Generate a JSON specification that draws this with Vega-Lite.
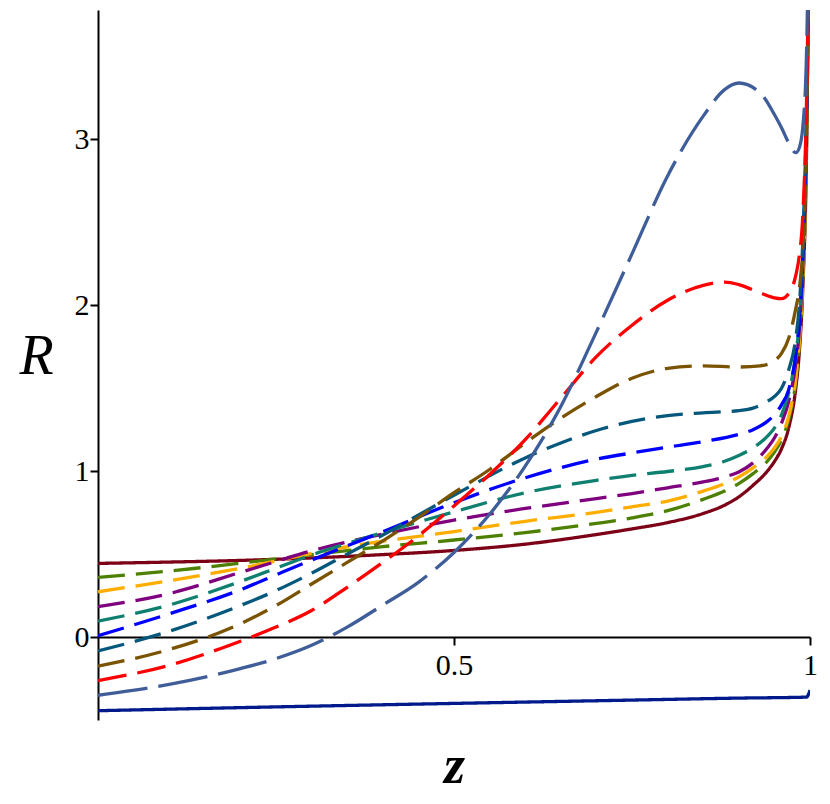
{
  "$schema": "https://vega.github.io/schema/vega-lite/v6.json",
  "width": 712,
  "height": 710,
  "autosize": {"type": "none"},
  "padding": {"left": 98, "top": 10, "right": 20, "bottom": 84},
  "background": "white",
  "config": {"view": {"stroke": null}},
  "data": {
    "values": [
      {"curve": "c1", "z": 0, "R": 0.444}, {"curve": "c1", "z": 0.1, "R": 0.452}, {"curve": "c1", "z": 0.2, "R": 0.462},
      {"curve": "c1", "z": 0.3, "R": 0.477}, {"curve": "c1", "z": 0.4, "R": 0.497}, {"curve": "c1", "z": 0.5, "R": 0.522},
      {"curve": "c1", "z": 0.6, "R": 0.56}, {"curve": "c1", "z": 0.7, "R": 0.618}, {"curve": "c1", "z": 0.75, "R": 0.652},
      {"curve": "c1", "z": 0.8, "R": 0.69}, {"curve": "c1", "z": 0.85, "R": 0.745}, {"curve": "c1", "z": 0.88, "R": 0.795},
      {"curve": "c1", "z": 0.9, "R": 0.845}, {"curve": "c1", "z": 0.92, "R": 0.915}, {"curve": "c1", "z": 0.94, "R": 1.0},
      {"curve": "c1", "z": 0.95, "R": 1.058}, {"curve": "c1", "z": 0.96, "R": 1.135}, {"curve": "c1", "z": 0.97, "R": 1.26},
      {"curve": "c1", "z": 0.98, "R": 1.5}, {"curve": "c1", "z": 0.985, "R": 1.72}, {"curve": "c1", "z": 0.99, "R": 2.12},
      {"curve": "c1", "z": 0.995, "R": 2.9}, {"curve": "c1", "z": 0.998, "R": 4.0},

      {"curve": "c2", "z": 0, "R": 0.36}, {"curve": "c2", "z": 0.1, "R": 0.398}, {"curve": "c2", "z": 0.2, "R": 0.445},
      {"curve": "c2", "z": 0.3, "R": 0.497}, {"curve": "c2", "z": 0.4, "R": 0.545}, {"curve": "c2", "z": 0.5, "R": 0.585},
      {"curve": "c2", "z": 0.6, "R": 0.63}, {"curve": "c2", "z": 0.7, "R": 0.685}, {"curve": "c2", "z": 0.75, "R": 0.718},
      {"curve": "c2", "z": 0.8, "R": 0.762}, {"curve": "c2", "z": 0.85, "R": 0.83}, {"curve": "c2", "z": 0.88, "R": 0.88},
      {"curve": "c2", "z": 0.9, "R": 0.925}, {"curve": "c2", "z": 0.92, "R": 0.985}, {"curve": "c2", "z": 0.94, "R": 1.06},
      {"curve": "c2", "z": 0.95, "R": 1.115}, {"curve": "c2", "z": 0.96, "R": 1.19}, {"curve": "c2", "z": 0.97, "R": 1.31},
      {"curve": "c2", "z": 0.98, "R": 1.54}, {"curve": "c2", "z": 0.985, "R": 1.76}, {"curve": "c2", "z": 0.99, "R": 2.15},
      {"curve": "c2", "z": 0.995, "R": 2.95}, {"curve": "c2", "z": 0.998, "R": 4.0},

      {"curve": "c3", "z": 0, "R": 0.273}, {"curve": "c3", "z": 0.1, "R": 0.34}, {"curve": "c3", "z": 0.2, "R": 0.415},
      {"curve": "c3", "z": 0.25, "R": 0.458}, {"curve": "c3", "z": 0.3, "R": 0.505}, {"curve": "c3", "z": 0.4, "R": 0.578},
      {"curve": "c3", "z": 0.5, "R": 0.636}, {"curve": "c3", "z": 0.6, "R": 0.698}, {"curve": "c3", "z": 0.7, "R": 0.752},
      {"curve": "c3", "z": 0.75, "R": 0.785}, {"curve": "c3", "z": 0.8, "R": 0.82}, {"curve": "c3", "z": 0.85, "R": 0.88},
      {"curve": "c3", "z": 0.88, "R": 0.925}, {"curve": "c3", "z": 0.9, "R": 0.965}, {"curve": "c3", "z": 0.92, "R": 1.02},
      {"curve": "c3", "z": 0.94, "R": 1.09}, {"curve": "c3", "z": 0.95, "R": 1.14}, {"curve": "c3", "z": 0.96, "R": 1.21},
      {"curve": "c3", "z": 0.97, "R": 1.33}, {"curve": "c3", "z": 0.98, "R": 1.56}, {"curve": "c3", "z": 0.985, "R": 1.78},
      {"curve": "c3", "z": 0.99, "R": 2.18}, {"curve": "c3", "z": 0.995, "R": 2.97}, {"curve": "c3", "z": 0.998, "R": 4.0},

      {"curve": "c4", "z": 0, "R": 0.183}, {"curve": "c4", "z": 0.1, "R": 0.262}, {"curve": "c4", "z": 0.2, "R": 0.39},
      {"curve": "c4", "z": 0.25, "R": 0.455}, {"curve": "c4", "z": 0.3, "R": 0.52}, {"curve": "c4", "z": 0.4, "R": 0.62},
      {"curve": "c4", "z": 0.5, "R": 0.705}, {"curve": "c4", "z": 0.6, "R": 0.775}, {"curve": "c4", "z": 0.7, "R": 0.835},
      {"curve": "c4", "z": 0.75, "R": 0.865}, {"curve": "c4", "z": 0.8, "R": 0.9}, {"curve": "c4", "z": 0.85, "R": 0.935},
      {"curve": "c4", "z": 0.88, "R": 0.965}, {"curve": "c4", "z": 0.9, "R": 0.995}, {"curve": "c4", "z": 0.92, "R": 1.05},
      {"curve": "c4", "z": 0.94, "R": 1.14}, {"curve": "c4", "z": 0.95, "R": 1.2}, {"curve": "c4", "z": 0.96, "R": 1.29},
      {"curve": "c4", "z": 0.97, "R": 1.42}, {"curve": "c4", "z": 0.98, "R": 1.65}, {"curve": "c4", "z": 0.985, "R": 1.85},
      {"curve": "c4", "z": 0.99, "R": 2.25}, {"curve": "c4", "z": 0.995, "R": 3.0}, {"curve": "c4", "z": 0.998, "R": 4.0},

      {"curve": "c5", "z": 0, "R": 0.096}, {"curve": "c5", "z": 0.1, "R": 0.193}, {"curve": "c5", "z": 0.2, "R": 0.335},
      {"curve": "c5", "z": 0.25, "R": 0.415}, {"curve": "c5", "z": 0.3, "R": 0.495}, {"curve": "c5", "z": 0.35, "R": 0.565},
      {"curve": "c5", "z": 0.4, "R": 0.63}, {"curve": "c5", "z": 0.5, "R": 0.755}, {"curve": "c5", "z": 0.6, "R": 0.87},
      {"curve": "c5", "z": 0.7, "R": 0.945}, {"curve": "c5", "z": 0.75, "R": 0.975}, {"curve": "c5", "z": 0.8, "R": 0.998},
      {"curve": "c5", "z": 0.85, "R": 1.028}, {"curve": "c5", "z": 0.88, "R": 1.06}, {"curve": "c5", "z": 0.9, "R": 1.095},
      {"curve": "c5", "z": 0.92, "R": 1.14}, {"curve": "c5", "z": 0.94, "R": 1.21}, {"curve": "c5", "z": 0.95, "R": 1.26},
      {"curve": "c5", "z": 0.96, "R": 1.34}, {"curve": "c5", "z": 0.97, "R": 1.47}, {"curve": "c5", "z": 0.98, "R": 1.7},
      {"curve": "c5", "z": 0.985, "R": 1.9}, {"curve": "c5", "z": 0.99, "R": 2.3}, {"curve": "c5", "z": 0.995, "R": 3.05},
      {"curve": "c5", "z": 0.998, "R": 4.0},

      {"curve": "c6", "z": 0, "R": 0.008}, {"curve": "c6", "z": 0.1, "R": 0.14}, {"curve": "c6", "z": 0.2, "R": 0.285},
      {"curve": "c6", "z": 0.25, "R": 0.375}, {"curve": "c6", "z": 0.3, "R": 0.464}, {"curve": "c6", "z": 0.35, "R": 0.55},
      {"curve": "c6", "z": 0.4, "R": 0.635}, {"curve": "c6", "z": 0.5, "R": 0.81}, {"curve": "c6", "z": 0.6, "R": 0.96},
      {"curve": "c6", "z": 0.7, "R": 1.072}, {"curve": "c6", "z": 0.75, "R": 1.11}, {"curve": "c6", "z": 0.8, "R": 1.145},
      {"curve": "c6", "z": 0.85, "R": 1.178}, {"curve": "c6", "z": 0.9, "R": 1.222}, {"curve": "c6", "z": 0.92, "R": 1.25},
      {"curve": "c6", "z": 0.94, "R": 1.3}, {"curve": "c6", "z": 0.95, "R": 1.34}, {"curve": "c6", "z": 0.96, "R": 1.4},
      {"curve": "c6", "z": 0.97, "R": 1.49}, {"curve": "c6", "z": 0.98, "R": 1.7}, {"curve": "c6", "z": 0.985, "R": 1.9},
      {"curve": "c6", "z": 0.99, "R": 2.32}, {"curve": "c6", "z": 0.995, "R": 3.1}, {"curve": "c6", "z": 0.998, "R": 4.0},

      {"curve": "c7", "z": 0, "R": -0.084}, {"curve": "c7", "z": 0.1, "R": 0.035}, {"curve": "c7", "z": 0.2, "R": 0.19},
      {"curve": "c7", "z": 0.25, "R": 0.28}, {"curve": "c7", "z": 0.3, "R": 0.385}, {"curve": "c7", "z": 0.35, "R": 0.5},
      {"curve": "c7", "z": 0.4, "R": 0.615}, {"curve": "c7", "z": 0.5, "R": 0.855}, {"curve": "c7", "z": 0.6, "R": 1.08},
      {"curve": "c7", "z": 0.65, "R": 1.17}, {"curve": "c7", "z": 0.7, "R": 1.245}, {"curve": "c7", "z": 0.75, "R": 1.3},
      {"curve": "c7", "z": 0.8, "R": 1.335}, {"curve": "c7", "z": 0.85, "R": 1.352}, {"curve": "c7", "z": 0.9, "R": 1.365},
      {"curve": "c7", "z": 0.92, "R": 1.38}, {"curve": "c7", "z": 0.94, "R": 1.42}, {"curve": "c7", "z": 0.95, "R": 1.45},
      {"curve": "c7", "z": 0.96, "R": 1.5}, {"curve": "c7", "z": 0.97, "R": 1.61}, {"curve": "c7", "z": 0.98, "R": 1.8},
      {"curve": "c7", "z": 0.985, "R": 2.0}, {"curve": "c7", "z": 0.99, "R": 2.4}, {"curve": "c7", "z": 0.995, "R": 3.15},
      {"curve": "c7", "z": 0.998, "R": 4.0},

      {"curve": "c8", "z": 0, "R": -0.175}, {"curve": "c8", "z": 0.1, "R": -0.075}, {"curve": "c8", "z": 0.2, "R": 0.08},
      {"curve": "c8", "z": 0.25, "R": 0.19}, {"curve": "c8", "z": 0.3, "R": 0.32}, {"curve": "c8", "z": 0.35, "R": 0.45},
      {"curve": "c8", "z": 0.4, "R": 0.58}, {"curve": "c8", "z": 0.45, "R": 0.72}, {"curve": "c8", "z": 0.5, "R": 0.87},
      {"curve": "c8", "z": 0.55, "R": 1.01}, {"curve": "c8", "z": 0.6, "R": 1.17}, {"curve": "c8", "z": 0.65, "R": 1.32},
      {"curve": "c8", "z": 0.7, "R": 1.45}, {"curve": "c8", "z": 0.75, "R": 1.56}, {"curve": "c8", "z": 0.8, "R": 1.62},
      {"curve": "c8", "z": 0.85, "R": 1.635}, {"curve": "c8", "z": 0.9, "R": 1.628}, {"curve": "c8", "z": 0.93, "R": 1.635},
      {"curve": "c8", "z": 0.95, "R": 1.665}, {"curve": "c8", "z": 0.96, "R": 1.71}, {"curve": "c8", "z": 0.97, "R": 1.8},
      {"curve": "c8", "z": 0.98, "R": 1.98}, {"curve": "c8", "z": 0.985, "R": 2.1}, {"curve": "c8", "z": 0.99, "R": 2.35},
      {"curve": "c8", "z": 0.995, "R": 3.0}, {"curve": "c8", "z": 0.998, "R": 4.0},

      {"curve": "c9", "z": 0, "R": -0.263}, {"curve": "c9", "z": 0.1, "R": -0.17}, {"curve": "c9", "z": 0.2, "R": -0.025},
      {"curve": "c9", "z": 0.25, "R": 0.06}, {"curve": "c9", "z": 0.3, "R": 0.16}, {"curve": "c9", "z": 0.35, "R": 0.3},
      {"curve": "c9", "z": 0.4, "R": 0.45}, {"curve": "c9", "z": 0.45, "R": 0.61}, {"curve": "c9", "z": 0.5, "R": 0.79},
      {"curve": "c9", "z": 0.55, "R": 0.98}, {"curve": "c9", "z": 0.6, "R": 1.19}, {"curve": "c9", "z": 0.65, "R": 1.44},
      {"curve": "c9", "z": 0.7, "R": 1.69}, {"curve": "c9", "z": 0.75, "R": 1.88}, {"curve": "c9", "z": 0.8, "R": 2.03},
      {"curve": "c9", "z": 0.85, "R": 2.12}, {"curve": "c9", "z": 0.88, "R": 2.14}, {"curve": "c9", "z": 0.9, "R": 2.125},
      {"curve": "c9", "z": 0.93, "R": 2.075}, {"curve": "c9", "z": 0.95, "R": 2.045}, {"curve": "c9", "z": 0.96, "R": 2.04},
      {"curve": "c9", "z": 0.97, "R": 2.07}, {"curve": "c9", "z": 0.98, "R": 2.18}, {"curve": "c9", "z": 0.985, "R": 2.3},
      {"curve": "c9", "z": 0.99, "R": 2.55}, {"curve": "c9", "z": 0.995, "R": 3.2}, {"curve": "c9", "z": 0.998, "R": 4.0},

      {"curve": "c10", "z": 0, "R": -0.351}, {"curve": "c10", "z": 0.1, "R": -0.285}, {"curve": "c10", "z": 0.2, "R": -0.19},
      {"curve": "c10", "z": 0.25, "R": -0.13}, {"curve": "c10", "z": 0.3, "R": -0.05}, {"curve": "c10", "z": 0.35, "R": 0.06},
      {"curve": "c10", "z": 0.4, "R": 0.193}, {"curve": "c10", "z": 0.45, "R": 0.33}, {"curve": "c10", "z": 0.5, "R": 0.51},
      {"curve": "c10", "z": 0.55, "R": 0.74}, {"curve": "c10", "z": 0.6, "R": 1.03}, {"curve": "c10", "z": 0.65, "R": 1.39},
      {"curve": "c10", "z": 0.7, "R": 1.84}, {"curve": "c10", "z": 0.75, "R": 2.31}, {"curve": "c10", "z": 0.8, "R": 2.78},
      {"curve": "c10", "z": 0.85, "R": 3.14}, {"curve": "c10", "z": 0.88, "R": 3.3}, {"curve": "c10", "z": 0.9, "R": 3.34},
      {"curve": "c10", "z": 0.93, "R": 3.28}, {"curve": "c10", "z": 0.95, "R": 3.15}, {"curve": "c10", "z": 0.96, "R": 3.07},
      {"curve": "c10", "z": 0.97, "R": 2.98}, {"curve": "c10", "z": 0.98, "R": 2.92}, {"curve": "c10", "z": 0.985, "R": 2.95},
      {"curve": "c10", "z": 0.99, "R": 3.08}, {"curve": "c10", "z": 0.995, "R": 3.5}, {"curve": "c10", "z": 0.998, "R": 4.2},

      {"curve": "c11", "z": 0, "R": -0.444}, {"curve": "c11", "z": 0.25, "R": -0.421}, {"curve": "c11", "z": 0.5, "R": -0.4},
      {"curve": "c11", "z": 0.75, "R": -0.38}, {"curve": "c11", "z": 0.9, "R": -0.368}, {"curve": "c11", "z": 0.995, "R": -0.362},
      {"curve": "c11", "z": 1, "R": -0.32}
    ]
  },
  "mark": {"type": "line", "interpolate": "monotone", "strokeWidth": 3.3, "clip": true},
  "encoding": {
    "x": {
      "field": "z",
      "type": "quantitative",
      "scale": {"domain": [0, 1], "nice": false, "zero": false},
      "axis": {
        "values": [0.5, 1],
        "format": "~g",
        "offset": -83,
        "grid": false,
        "domainColor": "black",
        "domainWidth": 2,
        "tickColor": "black",
        "tickWidth": 2,
        "tickSize": 8,
        "labelFlush": false,
        "labelOverlap": false,
        "labelFont": "Times New Roman, Liberation Serif, serif",
        "labelFontSize": 30,
        "labelColor": "black",
        "labelPadding": 5,
        "title": "z",
        "titleFont": "Times New Roman, Liberation Serif, serif",
        "titleFontSize": 54,
        "titleFontStyle": "italic",
        "titleFontWeight": "bold",
        "titleColor": "black",
        "titlePadding": 59
      }
    },
    "y": {
      "field": "R",
      "type": "quantitative",
      "scale": {"domain": [-0.5, 3.78], "nice": false, "zero": false},
      "axis": {
        "values": [0, 1, 2, 3],
        "grid": false,
        "domainColor": "black",
        "domainWidth": 2,
        "tickColor": "black",
        "tickWidth": 2,
        "tickSize": 8,
        "labelFont": "Times New Roman, Liberation Serif, serif",
        "labelFontSize": 30,
        "labelColor": "black",
        "labelPadding": 1,
        "title": "R",
        "titleFont": "Times New Roman, Liberation Serif, serif",
        "titleFontSize": 56,
        "titleFontStyle": "italic",
        "titleFontWeight": "normal",
        "titleColor": "black",
        "titleAngle": 0,
        "titleAlign": "center",
        "titleBaseline": "middle",
        "titleX": -62,
        "titleY": 346
      }
    },
    "color": {
      "field": "curve",
      "type": "nominal",
      "legend": null,
      "scale": {
        "domain": ["c1", "c2", "c3", "c4", "c5", "c6", "c7", "c8", "c9", "c10", "c11"],
        "range": ["#7c0016", "#4d8000", "#ffae00", "#7f007f", "#0f8070", "#0000ff", "#05587c", "#7a5300", "#ff0000", "#3f5e99", "#001a8c"]
      }
    },
    "strokeDash": {
      "field": "curve",
      "type": "nominal",
      "legend": null,
      "scale": {
        "domain": ["c1", "c2", "c3", "c4", "c5", "c6", "c7", "c8", "c9", "c10", "c11"],
        "range": [[1, 0], [27, 11], [27, 11], [27, 11], [27, 11], [27, 11], [27, 11], [27, 11], [29, 11], [50, 11], [1, 0]]
      }
    }
  }
}
